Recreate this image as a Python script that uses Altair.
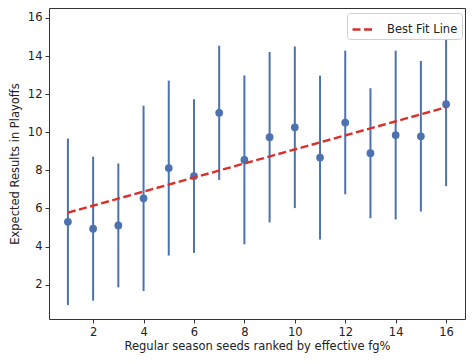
import altair as alt
import pandas as pd

# Data
seeds = [1, 2, 3, 4, 5, 6, 7, 8, 9, 10, 11, 12, 13, 14, 15, 16]
means = [5.30, 4.94, 5.11, 6.53, 8.12, 7.70, 11.02, 8.55, 9.74, 10.26, 8.67, 10.51, 8.90, 9.85, 9.79, 11.47]
errs = [4.37, 3.78, 3.25, 4.86, 4.59, 4.03, 3.52, 4.43, 4.47, 4.24, 4.30, 3.77, 3.41, 4.43, 3.95, 4.30]
fit_x = [1, 16]
fit_y = [5.78, 11.31]
fit_label = ["Best Fit Line", "Best Fit Line"]

df = pd.DataFrame({"seed": seeds, "mean": means, "err": errs})
fit_df = pd.DataFrame({"seed": fit_x, "fit": fit_y, "label": fit_label})

BLUE = "#4C72B0"
RED = "#dc2f2a"
FONT = "DejaVu Sans"

x_scale = alt.Scale(domain=[0.25, 16.75], nice=False, zero=False)
y_scale = alt.Scale(domain=[0.2, 16.52], nice=False, zero=False)

x_axis = alt.Axis(title="Regular season seeds ranked by effective fg%",
                  values=[2, 4, 6, 8, 10, 12, 14, 16], labelFlush=False)
y_axis = alt.Axis(title="Expected Results in Playoffs",
                  values=[2, 4, 6, 8, 10, 12, 14, 16])

base = alt.Chart(df)

bars = base.transform_calculate(
    lo="datum.mean - datum.err", hi="datum.mean + datum.err"
).mark_rule(color=BLUE, strokeWidth=2).encode(
    x=alt.X("seed:Q", scale=x_scale, axis=x_axis),
    y=alt.Y("lo:Q", scale=y_scale, axis=y_axis),
    y2="hi:Q",
)

points = base.mark_circle(color=BLUE, size=60, opacity=1).encode(
    x=alt.X("seed:Q", scale=x_scale),
    y=alt.Y("mean:Q", scale=y_scale),
)

fit = alt.Chart(fit_df).mark_line(strokeWidth=2.4).encode(
    x=alt.X("seed:Q", scale=x_scale),
    y=alt.Y("fit:Q", scale=y_scale),
    color=alt.Color("label:N", scale=alt.Scale(range=[RED]),
                    legend=alt.Legend(title=None, orient="none", legendX=298, legendY=5,
                                      fillColor="white", strokeColor="#d0d0d0",
                                      cornerRadius=3, padding=4,
                                      symbolType="stroke", symbolSize=484,
                                      symbolStrokeWidth=2.4, labelOffset=11,
                                      labelFont=FONT, labelFontSize=11.5,
                                      labelColor="#222")),
    strokeDash=alt.StrokeDash("label:N", scale=alt.Scale(range=[[8, 3.5]]), legend=None),
)

chart = alt.layer(bars, points, fit).properties(
    width=416, height=311,
    autosize=alt.AutoSizeParams(type="none"),
    padding={"left": 41, "top": 0, "right": 1, "bottom": 37},
).configure_view(
    stroke="#333", strokeWidth=1
).configure_axis(
    labelFont=FONT, labelFontSize=11.5, labelColor="#222",
    titleFont=FONT, titleFontSize=11.5, titleFontWeight="normal", titleColor="#222",
    tickColor="#333", tickSize=4, tickWidth=1, labelPadding=3,
    domain=False, grid=False,
).configure_axisX(titlePadding=3).configure_axisY(titlePadding=7)

chart.save("out.html", embed_options={"renderer": "svg", "actions": False})
